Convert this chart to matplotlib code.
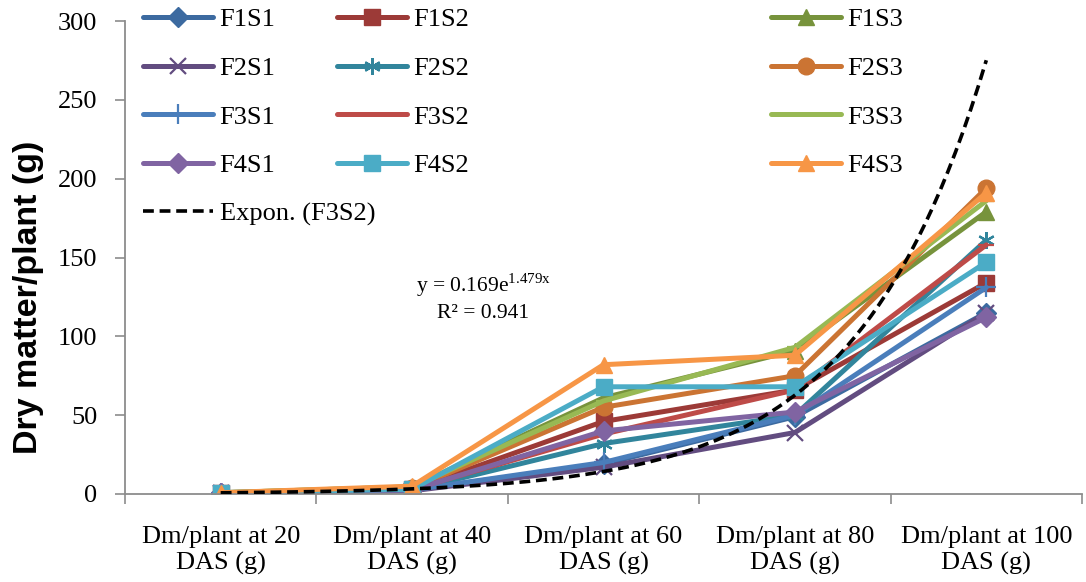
import numpy as np
import matplotlib
matplotlib.use("Agg")
import matplotlib.pyplot as plt

plt.rcParams['font.family'] = ['Liberation Serif', 'DejaVu Serif']
plt.rcParams['mathtext.fontset'] = 'custom'
plt.rcParams['mathtext.rm'] = 'Liberation Serif'

# data
categories = ["Dm/plant at 20\nDAS (g)", "Dm/plant at 40\nDAS (g)", "Dm/plant at 60\nDAS (g)",
              "Dm/plant at 80\nDAS (g)", "Dm/plant at 100\nDAS (g)"]
series_names = ["F1S1", "F1S2", "F1S3", "F2S1", "F2S2", "F2S3",
                "F3S1", "F3S2", "F3S3", "F4S1", "F4S2", "F4S3"]
F1S1 = [0.5, 2.5, 19, 49, 115]
F1S2 = [0.6, 3.0, 46, 66, 134]
F1S3 = [0.8, 4.5, 61, 91, 179]
F2S1 = [0.5, 2.0, 17, 39, 115]
F2S2 = [0.6, 2.5, 32, 50, 161]
F2S3 = [0.7, 3.5, 55, 75, 194]
F3S1 = [0.5, 2.5, 20, 50, 131]
F3S2 = [0.6, 3.0, 38, 66, 158]
F3S3 = [0.8, 4.5, 59, 93, 186]
F4S1 = [0.5, 2.5, 40, 52, 112]
F4S2 = [0.9, 3.0, 68, 68, 147]
F4S3 = [0.8, 5.0, 82, 88, 191]
values = [F1S1, F1S2, F1S3, F2S1, F2S2, F2S3, F3S1, F3S2, F3S3, F4S1, F4S2, F4S3]

# exponential trendline of F3S2 as given in the chart label
trend_a = 0.169
trend_b = 1.479
trend_label = "Expon. (F3S2)"

colors = ["#3C6AA0", "#9C3A37", "#77933C", "#624C80", "#31859C", "#CB7433",
          "#4A7EBB", "#BE4B48", "#98B954", "#8064A2", "#4BACC6", "#F79646"]
asterisk = (6, 2, 0)
markers = ["D", "s", "^", "x", asterisk, "o", "+", "_", "_", "D", "s", "^"]
msizes = [10, 11, 12, 11, 12, 12, 14, 12, 12, 10, 11, 12]

fig = plt.figure(figsize=(10.86, 5.82), dpi=100)
ax = fig.add_axes([125 / 1086, 88 / 582, 957 / 1086, 473 / 582])

x = np.arange(1, 6)
handles = []
for name, vals, c, m, ms in zip(series_names, values, colors, markers, msizes):
    h, = ax.plot(x, vals, color=c, lw=3.6, marker=m, markersize=ms,
                 markeredgewidth=1.6 if m in ("x", "+", "_", asterisk) else 1.0,
                 markeredgecolor=c, markerfacecolor=c, label=name,
                 solid_capstyle="round", solid_joinstyle="round")
    handles.append(h)

xt = np.linspace(1, 5, 200)
ht, = ax.plot(xt, trend_a * np.exp(trend_b * xt), color="black", lw=2.6,
              ls=(0, (3.0, 1.6)), label=trend_label, zorder=5)

ax.set_xlim(0.5, 5.5)
ax.set_ylim(0, 300)
ax.set_yticks(np.arange(0, 301, 50))
ax.set_xticks(np.arange(0.5, 5.6, 1))
ax.set_xticklabels([])
ax.set_xticks(x, minor=True)
ax.set_xticklabels(categories, minor=True, fontsize=19, linespacing=1.25)
ax.tick_params(axis="x", which="minor", length=0, pad=23)
ax.tick_params(axis="x", which="major", length=7, color="#8C8C8C", width=1.2)
ax.tick_params(axis="y", length=7, color="#8C8C8C", width=1.2, labelsize=19, pad=13)
for s in ("top", "right"):
    ax.spines[s].set_visible(False)
for s in ("left", "bottom"):
    ax.spines[s].set_color("#8C8C8C")
    ax.spines[s].set_linewidth(1.3)

ax.set_ylabel("Dry matter/plant (g)", fontsize=24.5, fontweight="bold",
              family="Liberation Sans")
ax.yaxis.set_label_coords((44 - 125) / 957, (494 - 297) / 473)

ax.text(483, 582 - 285, r"y = 0.169e$^{\mathrm{1.479x}}$", transform=None, fontsize=15.5,
        ha="center", va="center")
ax.text(483, 582 - 313, "R² = 0.941", transform=None, fontsize=15.5,
        ha="center", va="center")

# legend laid out as three columns, like the original
cols = [[0, 3, 6, 9], [1, 4, 7, 10], [2, 5, 8, 11]]
col_x = [143, 337, 771]
for ci, idx in enumerate(cols):
    hs = [handles[i] for i in idx]
    ls = [series_names[i] for i in idx]
    if ci == 0:
        hs.append(ht)
        ls.append(trend_label)
    fig.legend(hs, ls, loc="upper left",
               bbox_to_anchor=(col_x[ci] / 1086, 1 - 8 / 582),
               frameon=False, fontsize=19, handlelength=2.65,
               handletextpad=0.25, labelspacing=0.95, borderpad=0,
               borderaxespad=0)

fig.savefig("out.png", dpi=100)
